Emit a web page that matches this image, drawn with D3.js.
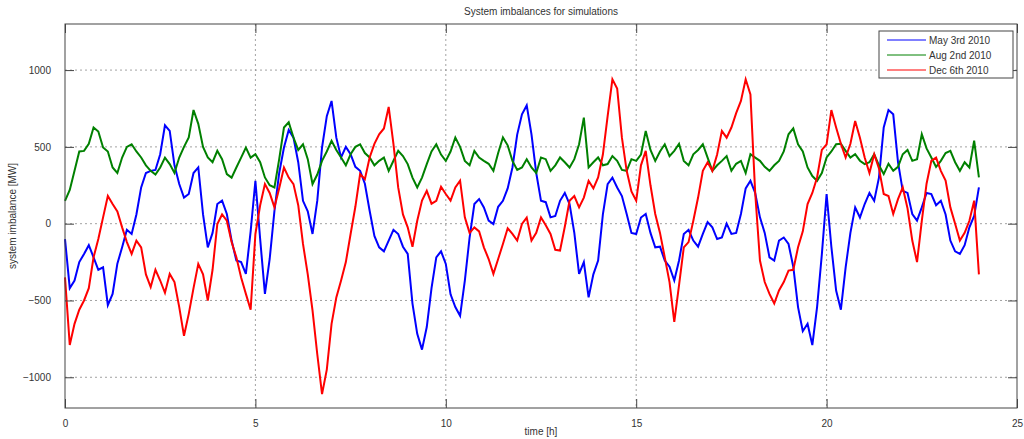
<!DOCTYPE html>
<html lang="en">
<head>
    <meta charset="UTF-8">
    <title>System imbalances for simulations</title>
    <script src="https://d3js.org/d3.v7.min.js"></script>
    <style>
        body {
            margin: 0;
            background: #fff;
            font-family: "Liberation Sans", Arial, sans-serif;
        }
        .grid line {
            stroke: #8a8a8a;
            stroke-width: 0.8;
            stroke-dasharray: 2,3;
        }
        .tick-label {
            font-size: 10px;
            fill: #333;
        }
        .series {
            fill: none;
            stroke-width: 2;
            stroke-linejoin: miter;
        }
    </style>
</head>
<body>
    <div id="chart"></div>

    <script>
        // Time axis: one value every 7.5 minutes, 0 h .. 24 h (8 values per row = 1 h)
        const stepHours = 0.125;

        // Values (MW)
        const may3rd = [
            -100, -420, -370, -250, -197, -140, -219, -300,
            -284, -530, -457, -260, -154, -40, -67, 60,
            236, 330, 344, 350, 452, 640, 604, 380,
            258, 170, 193, 330, 366, 60, -154, -60,
            128, 150, 63, -110, -240, -250, -327, -50,
            279, -100, -457, -230, 84, 330, 496, 610,
            560, 400, 149, 80, -67, 150, 496, 700,
            799, 560, 431, 500, 452, 370, 344, 260,
            84, -80, -154, -180, -110, -40, -67, -150,
            -197, -520, -717, -820, -673, -420, -219, -180,
            -262, -460, -543, -600, -370, -90, 128, 160,
            106, 20, -2, 110, 149, 230, 366, 580,
            712, 770, 582, 330, 149, 140, 41, 50,
            149, 200, 128, -60, -327, -250, -480, -330,
            -240, 60, 258, 300, 236, 180, 63, -60,
            -67, 40, 63, -60, -154, -150, -240, -280,
            -370, -240, -67, -40, -110, -150, -67, 10,
            -24, -100, -89, 0, -67, -60, 63, 230,
            279, 200, 41, -60, -219, -240, -110, -90,
            -132, -280, -543, -700, -652, -790, -543, -200,
            193, -150, -435, -560, -284, -60, 106, 40,
            128, 200, 149, 300, 626, 740, 712, 400,
            214, 200, 63, 20, 106, 200, 193, 120,
            149, 60, -110, -180, -197, -140, -24, 50,
            236
        ];
        const aug2nd = [
            149, 220, 344, 470, 474, 520, 626, 600,
            496, 470, 366, 330, 431, 500, 517, 470,
            431, 380, 344, 320, 366, 430, 388, 330,
            431, 500, 561, 740, 650, 500, 431, 400,
            474, 420, 323, 300, 366, 430, 496, 430,
            452, 400, 301, 250, 236, 420, 626, 660,
            561, 480, 517, 420, 258, 320, 409, 470,
            539, 480, 431, 380, 452, 500, 517, 460,
            431, 380, 409, 430, 344, 410, 474, 440,
            388, 300, 236, 300, 388, 470, 517, 450,
            409, 470, 561, 500, 409, 380, 474, 430,
            409, 390, 344, 460, 561, 510, 409, 350,
            366, 420, 366, 330, 431, 420, 344, 380,
            431, 400, 366, 420, 517, 690, 366, 400,
            431, 380, 388, 440, 409, 350, 344, 420,
            409, 450, 604, 480, 409, 470, 517, 440,
            474, 520, 409, 380, 452, 480, 517, 430,
            344, 380, 409, 440, 344, 390, 409, 330,
            452, 430, 409, 370, 344, 380, 409, 470,
            582, 620, 517, 470, 366, 310, 279, 330,
            431, 470, 517, 520, 474, 430, 452, 410,
            388, 400, 452, 380, 323, 390, 344, 370,
            452, 480, 409, 420, 582, 490, 431, 370,
            409, 460, 474, 400, 344, 400, 366, 540,
            301
        ];
        const dec6th = [
            -350, -790, -652, -560, -500, -420, -219, -100,
            41, 180, 128, 80, -24, -120, -197, -110,
            -154, -330, -413, -300, -370, -450, -327, -380,
            -543, -730, -587, -420, -262, -330, -500, -300,
            -2, 60, 19, -120, -219, -350, -457, -560,
            -67, 120, 258, 200, 106, 230, 366, 300,
            258, 120, -132, -330, -565, -850, -1110, -950,
            -652, -480, -370, -250, -67, 110, 323, 290,
            431, 520, 582, 620, 760, 520, 236, 60,
            -24, -150, 19, 150, 214, 130, 149, 240,
            193, 150, 236, 280, 41, -60, -24, -50,
            -154, -230, -327, -230, -132, -30, -67, -110,
            -2, 40, -110, -60, 41, -10, -67, -170,
            -175, -20, 149, 180, 106, 170, 279, 230,
            301, 450, 700, 940, 880, 560, 344, 210,
            149, 380, 474, 250, 63, -60, -219, -380,
            -640, -400, -154, -120, 19, 170, 344, 400,
            344, 450, 604, 560, 626, 720, 799, 940,
            842, 200, -240, -380, -457, -520, -435, -380,
            -305, -300, -154, -50, 128, 200, 301, 480,
            517, 740, 626, 520, 431, 520, 669, 560,
            431, 330, 452, 360, 193, 180, 63, 160,
            236, 100, -110, -250, 19, 260, 409, 430,
            344, 280, 106, 0, -110, -60, 19, 150,
            -330
        ];

        const seriesNames = ["May 3rd 2010", "Aug 2nd 2010", "Dec 6th 2010"];
        const seriesColors = ["#0000ff", "#008000", "#ff0000"];
        const seriesValues = [may3rd, aug2nd, dec6th];

        const xTicks = [0, 5, 10, 15, 20, 25];
        const yTicks = [-1000, -500, 0, 500, 1000];

        const chartTitle = "System imbalances for simulations";
        const xLabel = "time [h]";
        const yLabel = "system imbalance [MW]";

        // Layout
        const W = 1024, H = 439;
        const margin = {top: 24, right: 7, bottom: 31, left: 65};
        const width = W - margin.left - margin.right;
        const height = H - margin.top - margin.bottom;
        const tickLen = 9;

        const svg = d3.select("#chart")
            .append("svg")
                .attr("width", W)
                .attr("height", H);

        const g = svg.append("g")
            .attr("transform", `translate(${margin.left},${margin.top})`);

        const x = d3.scaleLinear().domain([0, 25]).range([0, width]);
        const y = d3.scaleLinear().domain([-1200, 1300]).range([height, 0]);

        // Grid
        const grid = g.append("g").attr("class", "grid");
        grid.selectAll(".vg").data(xTicks.slice(1, -1)).enter()
            .append("line")
                .attr("x1", d => x(d)).attr("x2", d => x(d))
                .attr("y1", 0).attr("y2", height);
        grid.selectAll(".hg").data(yTicks).enter()
            .append("line")
                .attr("x1", 0).attr("x2", width)
                .attr("y1", d => y(d)).attr("y2", d => y(d));

        // Series
        const line = d3.line()
            .x((d, i) => x(i * stepHours))
            .y(d => y(d));

        seriesValues.forEach((vals, k) => {
            g.append("path")
                .attr("class", "series")
                .attr("stroke", seriesColors[k])
                .attr("d", line(vals));
        });

        // Axes (MATLAB style: box with ticks pointing inward on all sides)
        const axisColor = "#444";
        const fmt = d3.format("d");
        const styleAxis = sel => {
            sel.select(".domain").remove();
            sel.selectAll(".tick line").attr("stroke", axisColor);
            sel.selectAll(".tick text").attr("class", "tick-label");
        };

        g.append("g")
            .attr("transform", `translate(0,${height})`)
            .call(d3.axisBottom(x).tickValues(xTicks).tickFormat(fmt).tickSizeInner(-tickLen).tickSizeOuter(0).tickPadding(tickLen + 3))
            .call(styleAxis);
        g.append("g")
            .call(d3.axisTop(x).tickValues(xTicks).tickSizeInner(-tickLen).tickSizeOuter(0).tickFormat(""))
            .call(styleAxis);
        g.append("g")
            .call(d3.axisLeft(y).tickValues(yTicks).tickFormat(fmt).tickSizeInner(-tickLen).tickSizeOuter(0).tickPadding(tickLen + 5))
            .call(styleAxis);
        g.append("g")
            .attr("transform", `translate(${width},0)`)
            .call(d3.axisRight(y).tickValues(yTicks).tickSizeInner(-tickLen).tickSizeOuter(0).tickFormat(""))
            .call(styleAxis);

        g.selectAll(".tick text").attr("font-family", null).attr("font-size", null).attr("fill", "#333");

        g.append("rect")
            .attr("width", width)
            .attr("height", height)
            .attr("fill", "none")
            .attr("stroke", axisColor)
            .attr("stroke-width", 1);

        // Title and labels
        svg.append("text")
            .attr("x", margin.left + width / 2)
            .attr("y", 15)
            .attr("text-anchor", "middle")
            .style("font-size", "10px")
            .style("fill", "#333")
            .text(chartTitle);

        svg.append("text")
            .attr("x", margin.left + width / 2)
            .attr("y", 435)
            .attr("text-anchor", "middle")
            .style("font-size", "10px")
            .style("fill", "#333")
            .text(xLabel);

        svg.append("text")
            .attr("transform", `translate(16,${margin.top + height / 2}) rotate(-90)`)
            .attr("text-anchor", "middle")
            .style("font-size", "10px")
            .style("fill", "#333")
            .text(yLabel);

        // Legend
        const legend = svg.append("g").attr("transform", "translate(879,31)");
        legend.append("rect")
            .attr("width", 134)
            .attr("height", 47)
            .attr("fill", "#fff")
            .attr("stroke", axisColor);

        seriesNames.forEach((name, k) => {
            const row = legend.append("g").attr("transform", `translate(0,${9 + k * 15})`);
            row.append("line")
                .attr("x1", 8).attr("x2", 47)
                .attr("stroke", seriesColors[k])
                .attr("stroke-width", 1);
            row.append("text")
                .attr("x", 50)
                .attr("y", 4)
                .style("font-size", "10px")
                .style("fill", "#333")
                .text(name);
        });
    </script>
</body>
</html>
